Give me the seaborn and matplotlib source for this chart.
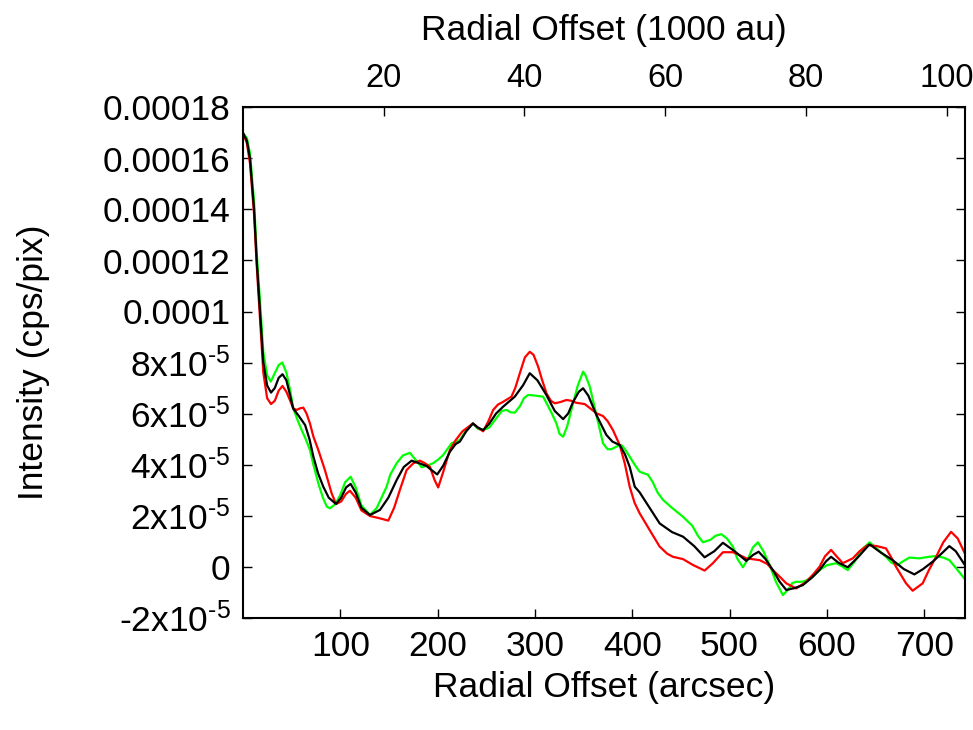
import matplotlib
matplotlib.use('Agg')
import matplotlib.pyplot as plt
import pandas as pd
import seaborn as sns

# intensity in units of 1e-5 cps/pix, offsets in arcsec
black_x = [0, 4, 7.2, 11.4, 14.1, 17.5, 20.9, 24.8, 28.8, 32.7, 36.7, 40.6, 44.6, 48.5, 51.5, 57.4,
           63.8, 68.3, 72.3, 77.2, 82.5, 88.1, 95.6, 100.9, 105.9, 110.6, 115.8, 121.7, 130.5, 140.8,
           149.4, 157.9, 165.2, 173.3, 181, 188.7, 194.8, 199.6, 205.7, 212.6, 218.5, 222.9, 229.4,
           236.3, 241.3, 246.8, 253.1, 260.1, 267.4, 279.3, 287.7, 294.7, 302.6, 311.9, 320.4, 329,
           334.2, 339.2, 345.1, 349.5, 354.9, 363.2, 373.4, 379.6, 387.2, 392.5, 397.4, 402.6, 407.6,
           416.2, 428.2, 440.9, 452.2, 463.7, 474.4, 484.4, 493.2, 505.2, 517.2, 524, 529.9, 536.8,
           544.5, 551.6, 558.3, 566.5, 575.3, 584.3, 592.5, 599.1, 604.4, 611.9, 621.5, 631.7, 643.9,
           655.4, 667.6, 679.1, 690, 698.9, 708.8, 717.7, 725.9, 732.5, 742]
black_y = [17.0, 16.7, 16.0, 14.0, 12.0, 10.0, 8.0, 7.1, 6.82, 7.0, 7.4, 7.54, 7.3, 6.7, 6.2, 5.9,
           5.55, 5.0, 4.31, 3.65, 3.13, 2.7, 2.45, 2.7, 3.1, 3.24, 2.9, 2.3, 2.02, 2.22,
           2.7, 3.39, 3.9, 4.15, 4.05, 3.94, 3.75, 3.61, 3.95, 4.5, 4.8, 4.9, 5.3,
           5.61, 5.45, 5.35, 5.6, 6.0, 6.27, 6.66, 7.1, 7.58, 7.3, 6.72, 6.1, 5.78,
           6.0, 6.45, 6.85, 6.99, 6.7, 5.94, 5.16, 4.9, 4.76, 4.4, 3.91, 3.13, 2.91,
           2.4, 1.69, 1.35, 1.17, 0.8, 0.36, 0.6, 0.93, 0.6, 0.22, 0.45, 0.58, 0.3,
           -0.14, -0.6, -0.92, -0.85, -0.73, -0.45, -0.14, 0.2, 0.38, 0.15, -0.03, 0.35, 0.87,
           0.55, 0.25, -0.1, -0.31, -0.1, 0.19, 0.5, 0.8, 0.6, 0.05]

red_x = [0, 4, 7.2, 11.4, 14.1, 17.5, 20.9, 24.8, 28.8, 32.7, 36.7, 40.6, 44.6, 48.5, 51.7, 55.2,
         58.4, 62, 65.3, 68.8, 72.3, 77.4, 84.2, 91.1, 95.6, 100.9, 105.9, 109.9, 115.8, 121.7,
         130.5, 139.5, 149.3, 155.3, 161.2, 168.1, 175.1, 181.8, 186.9, 192.1, 196.8, 200.6, 205.7,
         212.6, 218.5, 225.5, 236.3, 241.3, 246.8, 252.2, 257.1, 262, 267.4, 275.9, 279.8, 284.5,
         289.7, 294.7, 298.6, 303.3, 307.5, 311.9, 316.4, 320.4, 326.3, 332.4, 337.2, 342.6, 351.2,
         356.9, 363.2, 370, 374.7, 380.2, 387.2, 392.3, 397.4, 402.4, 407.6, 417.9, 428.2, 436,
         441.9, 452.2, 462.4, 474.4, 482.9, 493.2, 503.5, 510.1, 517.2, 530.9, 538.8, 544.5, 551.6,
         558.3, 568.5, 578.8, 586.2, 592.5, 598.1, 604.4, 610, 616.4, 626.7, 633.7, 642.1, 651.4,
         660.8, 666.3, 671.1, 681.4, 688.2, 698.5, 704.8, 712.3, 719.7, 727.7, 734.5, 742]
red_y = [17.0, 16.6, 15.8, 13.8, 11.8, 9.7, 7.6, 6.6, 6.37, 6.5, 6.9, 7.08, 6.85, 6.5, 6.2, 6.14,
         6.2, 6.23, 6.0, 5.61, 5.1, 4.57, 3.78, 2.87, 2.45, 2.55, 2.85, 2.97, 2.7, 2.2,
         1.98, 1.9, 1.8, 2.3, 3.0, 3.78, 4.05, 4.15, 4.05, 3.91, 3.4, 3.1, 3.7,
         4.57, 4.95, 5.3, 5.61, 5.45, 5.3, 5.7, 6.14, 6.35, 6.46, 6.66, 7.0, 7.58,
         8.2, 8.42, 8.3, 7.84, 7.3, 6.79, 6.5, 6.4, 6.45, 6.53, 6.5, 6.42, 6.37,
         6.2, 6.01, 5.9, 5.7, 5.35, 4.76, 4.05, 3.13, 2.5, 2.09, 1.43, 0.78, 0.5,
         0.38, 0.29, 0.06, -0.16, 0.13, 0.56, 0.56, 0.45, 0.32, 0.25, 0.1, -0.14, -0.4,
         -0.66, -0.86, -0.6, -0.3, -0.01, 0.4, 0.65, 0.4, 0.13, 0.32, 0.6, 0.84, 0.8,
         0.71, 0.35, -0.01, -0.66, -0.95, -0.66, -0.15, 0.38, 0.95, 1.36, 1.1, 0.5]

green_x = [0, 4, 7.2, 11.4, 14.1, 17.5, 20.9, 24.8, 28.5, 31.7, 36.7, 40.4, 44.6, 48.5, 51.7, 55.5,
           60.3, 64.4, 68.8, 72.3, 77.4, 82.1, 86.1, 89.4, 95, 99.9, 104.9, 110.6, 115.8, 121.7,
           130.5, 137.5, 142.4, 147.6, 151.3, 157.9, 164.2, 171.5, 177, 183.6, 188.9, 195.4, 200.8,
           205.7, 214.3, 222.9, 229.4, 236.3, 241.3, 246.8, 253.1, 260.1, 266, 270.8, 274.9, 279.3,
           284.8, 288.7, 293.1, 300.6, 308.4, 313.4, 317.4, 322.1, 325.3, 329, 333.2, 339.2, 344.1,
           349.5, 352, 356.4, 363.2, 370, 374.7, 378.7, 383.6, 388.9, 392.5, 397.4, 402.4, 407.6,
           412.3, 416.2, 421.2, 426.1, 431.7, 440.9, 452.2, 461.7, 467.6, 472.7, 480.5, 485.4, 491.5,
           497.3, 503.5, 508.1, 513.8, 519, 524, 529.2, 534.8, 541.2, 547.7, 554.8, 560.5, 564.5,
           568.5, 574.4, 578.8, 585.2, 592.5, 600.1, 609.6, 615.9, 621.5, 628.7, 635.7, 643.9, 651.4,
           660.8, 666.3, 672.8, 678.1, 684.9, 695.1, 704.8, 712.3, 719.7, 725.9, 732.5, 742]
green_y = [17.0, 16.8, 16.2, 14.3, 12.3, 10.4, 8.4, 7.5, 7.25, 7.5, 7.9, 8.0, 7.6, 6.9, 6.2, 5.8,
           5.35, 5.0, 4.57, 4.0, 3.26, 2.7, 2.35, 2.28, 2.45, 2.8, 3.3, 3.52, 3.1, 2.4,
           2.02, 2.3, 2.7, 3.13, 3.6, 4.05, 4.35, 4.46, 4.2, 3.89, 3.95, 4.05, 4.2,
           4.37, 4.83, 4.96, 5.35, 5.61, 5.4, 5.35, 5.45, 5.8, 6.1, 6.14, 6.05, 6.03,
           6.3, 6.6, 6.73, 6.7, 6.66, 6.3, 6.0, 5.61, 5.2, 5.09, 5.5, 6.4, 7.1,
           7.64, 7.5, 7.05, 5.94, 4.83, 4.6, 4.6, 4.7, 4.76, 4.6, 4.31, 4.0, 3.72,
           3.65, 3.6, 3.3, 2.9, 2.61, 2.3, 1.95, 1.6, 1.2, 0.95, 1.05, 1.2, 1.27,
           1.1, 0.78, 0.3, -0.03, 0.3, 0.75, 0.95, 0.6, 0.06, -0.6, -1.12, -0.9, -0.65,
           -0.6, -0.6, -0.55, -0.4, -0.14, 0.05, 0.13, 0.0, -0.14, 0.2, 0.65, 0.95, 0.7,
           0.38, 0.15, 0.06, 0.2, 0.35, 0.32, 0.38, 0.41, 0.35, 0.25, -0.05, -0.5]

ytick_vals = [-2, 0, 2, 4, 6, 8, 10, 12, 14, 16, 18]
ytick_labels = [r'-2x10$^{\text{-5}}$', '0', r'2x10$^{\text{-5}}$', r'4x10$^{\text{-5}}$',
                r'6x10$^{\text{-5}}$', r'8x10$^{\text{-5}}$',
                '0.0001', '0.00012', '0.00014', '0.00016', '0.00018']
xtick_vals = [100, 200, 300, 400, 500, 600, 700]
au_ticks = [20, 40, 60, 80, 100]
ARCSEC_PER_KAU = 7.23

sns.set_style('white')
plt.rcParams['font.family'] = ['Liberation Sans', 'DejaVu Sans']
plt.rcParams['mathtext.fontset'] = 'custom'
plt.rcParams['mathtext.rm'] = 'Liberation Sans'
plt.rcParams['mathtext.default'] = 'regular'
plt.rcParams['axes.unicode_minus'] = False
for key in ['text.color', 'axes.labelcolor', 'xtick.color', 'ytick.color', 'axes.edgecolor']:
    plt.rcParams[key] = 'black'

df = pd.concat([
    pd.DataFrame({'arcsec': green_x, 'intensity': green_y, 'curve': 'green'}),
    pd.DataFrame({'arcsec': red_x, 'intensity': red_y, 'curve': 'red'}),
    pd.DataFrame({'arcsec': black_x, 'intensity': black_y, 'curve': 'black'}),
])

fig = plt.figure(figsize=(9.73, 7.3), dpi=100)
ax = fig.add_axes([243 / 973, 1 - 617.5 / 730, 722 / 973, 510 / 730])

sns.lineplot(data=df, x='arcsec', y='intensity', hue='curve',
             hue_order=['green', 'red', 'black'],
             palette={'green': '#00ff00', 'red': '#ff0000', 'black': '#000000'},
             estimator=None, sort=False, legend=False, lw=1.6, ax=ax)

fs = 25.5
ax.set_xlim(0, 742)
ax.set_ylim(-2, 18)
ax.set_xticks(xtick_vals)
ax.set_yticks(ytick_vals)
ax.set_yticklabels(ytick_labels)
ax.tick_params(axis='both', direction='in', length=6.5, width=1, labelsize=fs, pad=9,
               right=True, top=False, bottom=True, left=True, colors='black')
for s in ax.spines.values():
    s.set_linewidth(1.5)
    s.set_color('black')

ax.set_xlabel('Radial Offset (arcsec)', fontsize=fs, labelpad=6)
ax.set_ylabel('Intensity (cps/pix)', fontsize=fs)
ax.yaxis.set_label_coords(-0.268, 0.5)

top = ax.secondary_xaxis('top', functions=(lambda a: a / ARCSEC_PER_KAU, lambda k: k * ARCSEC_PER_KAU))
top.set_xticks(au_ticks)
top.tick_params(direction='in', length=6.5, width=1, labelsize=23.5, pad=10, colors='black')
top.set_xlabel('Radial Offset (1000 au)', fontsize=fs, labelpad=16)

fig.savefig('out.png', dpi=100)
